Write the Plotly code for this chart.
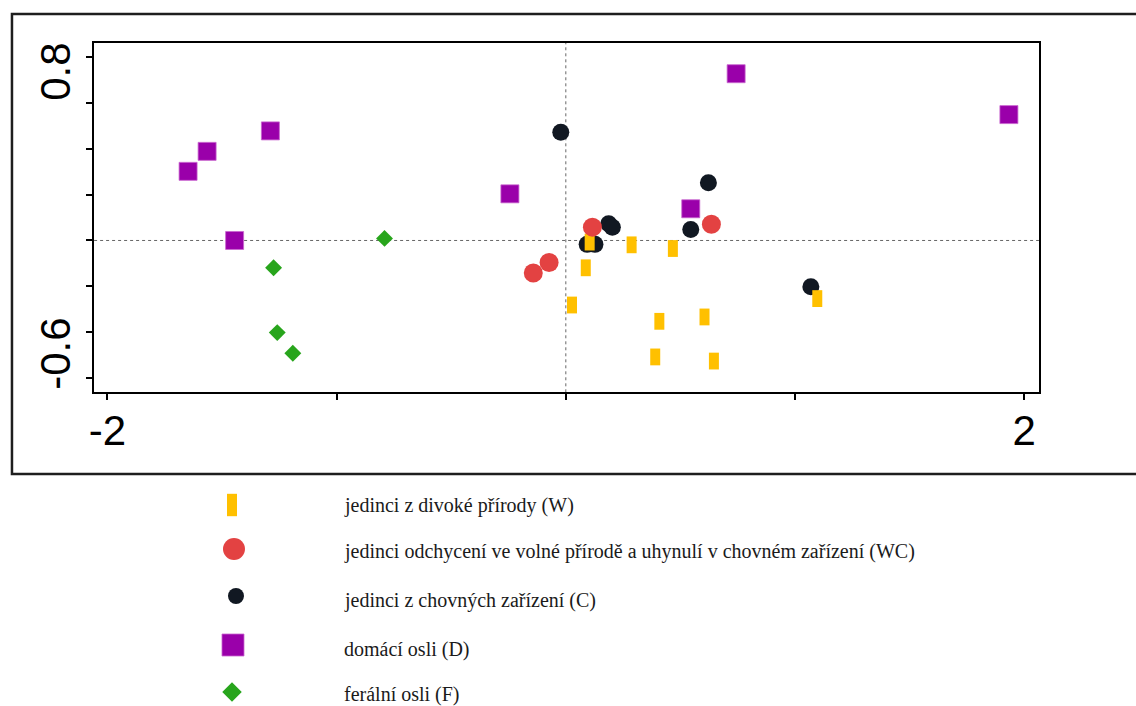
import plotly.graph_objects as go

# Page size in px
PAGE_W, PAGE_H = 1136, 706

# Ordination scores (axis 1, axis 2) for each group
w_x = [0.104, 0.287, 0.467, 0.087, 0.027, 0.408, 0.605, 0.390, 0.646, 1.097]
w_y = [-0.007, -0.019, -0.035, -0.119, -0.281, -0.352, -0.333, -0.507, -0.525, -0.253]

wc_x = [0.116, -0.073, -0.142, 0.635]
wc_y = [0.058, -0.096, -0.142, 0.071]

c_x = [-0.022, 0.622, 0.187, 0.203, 0.093, 0.127, 0.545, 1.069]
c_y = [0.471, 0.251, 0.073, 0.058, -0.017, -0.017, 0.048, -0.201]

d_x = [-1.648, -1.565, -1.289, -1.445, -0.244, 0.545, 0.743, 1.933]
d_y = [0.301, 0.388, 0.477, 0.000, 0.203, 0.138, 0.726, 0.548]

f_x = [-0.791, -1.275, -1.259, -1.191]
f_y = [0.009, -0.119, -0.401, -0.491]

group_labels = [
    "jedinci z divoké přírody (W)",
    "jedinci odchycení ve volné přírodě a uhynulí v chovném zařízení (WC)",
    "jedinci z chovných zařízení (C)",
    "domácí osli (D)",
    "ferální osli (F)",
]

x_tick_vals = [-2, -1, 0, 1, 2]
x_tick_text = ["-2", "", "", "", "2"]
y_tick_vals = [-0.6, -0.4, -0.2, 0.0, 0.2, 0.4, 0.6, 0.8]
y_labelled = ["0.8", "-0.6"]

# Colours
ORANGE = "#FFC000"
RED = "#E34242"
BLACK = "#111822"
PURPLE = "#9A00AA"
GREEN = "#28A51C"

# Marker styles per group
styles = {
    "W": dict(symbol="line-ns", size=12, color=ORANGE, line=dict(color=ORANGE, width=10)),
    "WC": dict(symbol="circle", size=19, color=RED, line=dict(width=0)),
    "C": dict(symbol="circle", size=17, color=BLACK, line=dict(width=0)),
    "D": dict(symbol="square", size=18, color=PURPLE, line=dict(color="#C966CF", width=0.8)),
    "F": dict(symbol="diamond", size=13, color=GREEN, line=dict(width=0)),
}

# Plot-area placement (px)
PL, PR, PT, PB = 89.5, 1038.5, 42.7, 392.3

fig = go.Figure()

# Drawing order: C under W, W under WC
for key, xs, ys in [("C", c_x, c_y), ("W", w_x, w_y), ("WC", wc_x, wc_y),
                    ("D", d_x, d_y), ("F", f_x, f_y)]:
    fig.add_trace(go.Scatter(x=xs, y=ys, mode="markers", marker=styles[key],
                             showlegend=False, cliponaxis=False,
                             xaxis="x", yaxis="y", hoverinfo="x+y"))

# Key below the plot: symbols on an auxiliary pixel-scaled axis pair
LEG_TOP = 478
key_order = ["W", "WC", "C", "D", "F"]
key_sym_x = [228, 230, 232, 229, 228]
key_sym_y = [505, 549, 596, 645, 692]
key_sizes = {"W": 16, "WC": 22, "C": 16, "D": 22, "F": 15}
key_text_y = [505, 551, 600, 649, 694]
KEY_TEXT_X = 338

for k, kx, ky in zip(key_order, key_sym_x, key_sym_y):
    st = dict(styles[k])
    st["size"] = key_sizes[k]
    fig.add_trace(go.Scatter(x=[kx], y=[ky], mode="markers", marker=st,
                             showlegend=False, cliponaxis=False,
                             xaxis="x2", yaxis="y2", hoverinfo="skip"))

annotations = []
for lbl, ty in zip(group_labels, key_text_y):
    annotations.append(dict(
        text=lbl, x=KEY_TEXT_X / PAGE_W, y=1 - ty / PAGE_H, xref="paper", yref="paper",
        xanchor="left", yanchor="middle", showarrow=False,
        font=dict(family="Liberation Serif, Times New Roman, serif", size=20, color="#1a1a1a"),
    ))

# Rotated labels for the first and last y ticks
for txt, cy in zip(y_labelled, [72, 354]):
    annotations.append(dict(
        text=txt, x=50 / PAGE_W, y=1 - cy / PAGE_H, xref="paper", yref="paper",
        xanchor="center", yanchor="middle", textangle=-90, showarrow=False,
        font=dict(family="Liberation Sans, Arial, sans-serif", size=42, color="#000"),
    ))

shapes = [
    # origin cross-hairs
    dict(type="line", xref="x", yref="y domain", x0=0, x1=0, y0=0, y1=1,
         line=dict(color="#666", width=1, dash="dot"), layer="below"),
    dict(type="line", xref="x domain", yref="y", x0=0, x1=1, y0=0, y1=0,
         line=dict(color="#666", width=1, dash="dot"), layer="below"),
    # outer frame
    dict(type="rect", xref="paper", yref="paper",
         x0=7 / PAGE_W, x1=1.02, y0=1 - 474 / PAGE_H, y1=1 - 14 / PAGE_H,
         line=dict(color="#1e1e1e", width=2.5), fillcolor="rgba(0,0,0,0)"),
]

axis_common = dict(showgrid=False, zeroline=False, showline=True, mirror=True,
                   linecolor="#000", linewidth=2, ticks="outside", ticklen=6,
                   tickwidth=2, tickcolor="#000")

fig.update_layout(
    width=PAGE_W, height=PAGE_H,
    margin=dict(l=0, r=0, t=0, b=0),
    paper_bgcolor="white", plot_bgcolor="rgba(0,0,0,0)",
    showlegend=False,
    xaxis=dict(domain=[PL / PAGE_W, PR / PAGE_W], range=[-2.058, 2.064],
               tickvals=x_tick_vals, ticktext=x_tick_text,
               tickfont=dict(family="Liberation Sans, Arial, sans-serif", size=42, color="#000"),
               ticklabelstandoff=-6, anchor="y", **axis_common),
    yaxis=dict(domain=[1 - PB / PAGE_H, 1 - PT / PAGE_H], range=[-0.661, 0.861],
               tickvals=y_tick_vals, showticklabels=False, anchor="x", **axis_common),
    xaxis2=dict(domain=[0, 1], range=[0, PAGE_W], visible=False, anchor="y2",
                fixedrange=True),
    yaxis2=dict(domain=[0, (PAGE_H - LEG_TOP) / PAGE_H], range=[PAGE_H, LEG_TOP],
                visible=False, anchor="x2", fixedrange=True),
    annotations=annotations,
    shapes=shapes,
)

fig.write_html("out.html")
